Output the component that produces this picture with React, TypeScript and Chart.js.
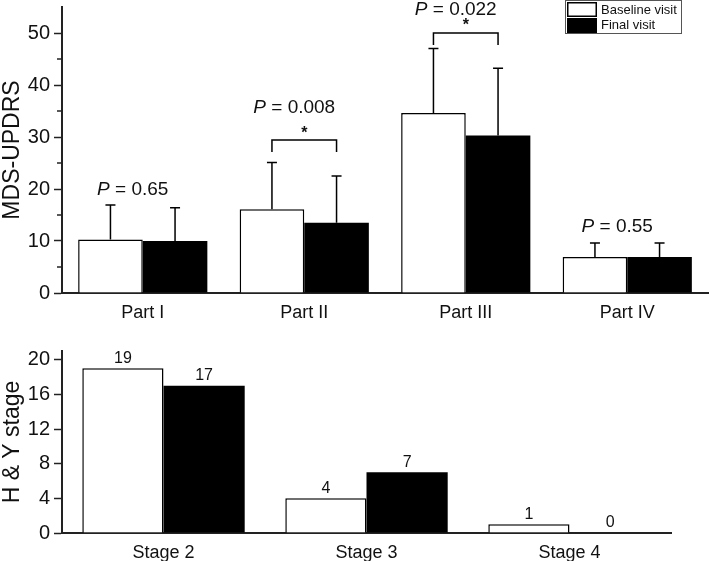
import React, { useEffect, useRef } from 'react';
import { Chart, registerables } from 'chart.js';
Chart.register(...registerables);

const parts = ['Part I', 'Part II', 'Part III', 'Part IV'];
const baselineMean = [10.3, 16.1, 34.6, 6.9];
const baselineSD = [6.6, 9.0, 12.4, 2.7];
const finalMean = [10.0, 13.5, 30.3, 6.9];
const finalSD = [6.4, 9.0, 12.9, 2.7];
const pValues = ['0.65', '0.008', '0.022', '0.55'];
const significant = [false, true, true, false];
const bracketLevel = [0, 29.4, 50.0, 0];
const pLabelLevel = [19.8, 35.6, 54.5, 12.7];
const mdsTicks = [0, 10, 20, 30, 40, 50];
const mdsMinorTicks = [5, 15, 25, 35, 45];
const mdsMax = 55;

const stages = ['Stage 2', 'Stage 3', 'Stage 4'];
const baselineStage = [19, 4, 1];
const finalStage = [17, 7, 0];
const hyTicks = [0, 4, 8, 12, 16, 20];
const hyMax = 21;

const seriesNames = ['Baseline visit', 'Final visit'];

const FONT = "'Liberation Sans', Arial, Helvetica, sans-serif";
const INK = '#111';
const AXIS = '#222';

const errorBarsPlugin = {
  id: 'errorBars',
  afterDatasetsDraw(chart: any) {
    const { ctx } = chart;
    const ys = chart.scales.y;
    const sds = [baselineSD, finalSD];
    ctx.save();
    ctx.strokeStyle = '#000';
    ctx.lineWidth = 1.5;
    sds.forEach((sd, di) => {
      const meta = chart.getDatasetMeta(di);
      const means = chart.data.datasets[di].data;
      meta.data.forEach((el: any, i: number) => {
        const x = el.x;
        const y0 = ys.getPixelForValue(means[i]);
        const y1 = ys.getPixelForValue(means[i] + sd[i]);
        ctx.beginPath();
        ctx.moveTo(x, y0);
        ctx.lineTo(x, y1);
        ctx.moveTo(x - 5, y1);
        ctx.lineTo(x + 5, y1);
        ctx.stroke();
      });
    });
    ctx.restore();
  },
};

const annotationsPlugin = {
  id: 'pAnnotations',
  afterDatasetsDraw(chart: any) {
    const { ctx } = chart;
    const ys = chart.scales.y;
    const xs = chart.scales.x;
    const m0 = chart.getDatasetMeta(0);
    const m1 = chart.getDatasetMeta(1);
    ctx.save();
    ctx.fillStyle = INK;
    ctx.strokeStyle = '#000';
    ctx.lineWidth = 1.5;
    parts.forEach((_, i) => {
      const cx = xs.getPixelForValue(i);
      if (significant[i]) {
        const xa = m0.data[i].x;
        const xb = m1.data[i].x;
        const yb = ys.getPixelForValue(bracketLevel[i]);
        ctx.beginPath();
        ctx.moveTo(xa, yb + 12);
        ctx.lineTo(xa, yb);
        ctx.lineTo(xb, yb);
        ctx.lineTo(xb, yb + 12);
        ctx.stroke();
        ctx.font = `bold 16px ${FONT}`;
        ctx.textAlign = 'center';
        ctx.textBaseline = 'middle';
        ctx.fillText('*', (xa + xb) / 2, yb - 7);
      }
      const yp = ys.getPixelForValue(pLabelLevel[i]);
      ctx.textBaseline = 'middle';
      ctx.textAlign = 'left';
      ctx.font = `italic 19px ${FONT}`;
      const wP = ctx.measureText('P').width;
      ctx.font = `19px ${FONT}`;
      const rest = ' = ' + pValues[i];
      const wR = ctx.measureText(rest).width;
      const start = cx - 10 - (wP + wR) / 2;
      ctx.font = `italic 19px ${FONT}`;
      ctx.fillText('P', start, yp);
      ctx.font = `19px ${FONT}`;
      ctx.fillText(rest, start + wP, yp);
    });
    ctx.restore();
  },
};

const minorTicksPlugin = {
  id: 'minorTicks',
  afterDraw(chart: any) {
    const { ctx } = chart;
    const ys = chart.scales.y;
    const left = chart.chartArea.left;
    ctx.save();
    ctx.strokeStyle = AXIS;
    ctx.lineWidth = 1.5;
    mdsMinorTicks.forEach((v) => {
      const y = ys.getPixelForValue(v);
      ctx.beginPath();
      ctx.moveTo(left - 5, y);
      ctx.lineTo(left, y);
      ctx.stroke();
    });
    ctx.restore();
  },
};

const legendPlugin = {
  id: 'boxLegend',
  afterDraw(chart: any) {
    const { ctx } = chart;
    ctx.save();
    ctx.strokeStyle = '#555';
    ctx.lineWidth = 1;
    ctx.strokeRect(565.5, 0.5, 116, 33);
    ctx.fillStyle = '#fff';
    ctx.fillRect(567, 2, 30, 15);
    ctx.strokeStyle = '#000';
    ctx.lineWidth = 1.5;
    ctx.strokeRect(567.75, 2.75, 28.5, 13.5);
    ctx.fillStyle = '#000';
    ctx.fillRect(567, 18, 30, 15);
    ctx.fillStyle = INK;
    ctx.font = `13px ${FONT}`;
    ctx.textAlign = 'left';
    ctx.textBaseline = 'middle';
    ctx.fillText(seriesNames[0], 601, 10);
    ctx.fillText(seriesNames[1], 601, 25.5);
    ctx.restore();
  },
};

const valueLabelsPlugin = {
  id: 'valueLabels',
  afterDatasetsDraw(chart: any) {
    const { ctx } = chart;
    const ys = chart.scales.y;
    ctx.save();
    ctx.fillStyle = INK;
    ctx.font = `16px ${FONT}`;
    ctx.textAlign = 'center';
    ctx.textBaseline = 'middle';
    chart.data.datasets.forEach((ds: any, di: number) => {
      const meta = chart.getDatasetMeta(di);
      meta.data.forEach((el: any, i: number) => {
        const v = ds.data[i];
        ctx.fillText(String(v), el.x, ys.getPixelForValue(v) - 10);
      });
    });
    ctx.restore();
  },
};

function yScale(max: number, tickValues: number[], title: string) {
  return {
    min: 0,
    max,
    afterBuildTicks: (s: any) => {
      s.ticks = tickValues.map((v) => ({ value: v }));
    },
    ticks: {
      font: { size: 20, family: FONT },
      color: INK,
      padding: 4,
    },
    grid: {
      display: true,
      drawOnChartArea: false,
      drawTicks: true,
      tickLength: 8,
      tickWidth: 1.5,
      tickColor: AXIS,
    },
    border: { display: true, color: AXIS, width: 2 },
    title: { display: true, text: title, font: { size: 23, family: FONT }, color: INK, padding: { top: -1, bottom: 0 } },
    afterFit: (s: any) => {
      s.width = 62;
      s.paddingTop = 0;
      s.paddingBottom = 0;
    },
  };
}

function xScale(h: number) {
  return {
    grid: { display: true, drawOnChartArea: false, drawTicks: false },
    border: { display: true, color: AXIS, width: 2 },
    ticks: { font: { size: 18, family: FONT }, color: INK, padding: 9 },
    afterFit: (s: any) => {
      s.height = h;
      s.paddingLeft = 0;
      s.paddingRight = 0;
    },
  };
}

function barDatasets(base: number[], fin: number[]) {
  return [
    {
      label: seriesNames[0],
      data: base,
      backgroundColor: '#fff',
      borderColor: '#000',
      borderWidth: 1.5,
      categoryPercentage: 0.8,
      barPercentage: 1,
    },
    {
      label: seriesNames[1],
      data: fin,
      backgroundColor: '#000',
      borderColor: '#000',
      borderWidth: 0,
      categoryPercentage: 0.8,
      barPercentage: 1,
    },
  ];
}

export default function App() {
  const topRef = useRef<HTMLCanvasElement>(null);
  const botRef = useRef<HTMLCanvasElement>(null);

  useEffect(() => {
    const top = new Chart(topRef.current as HTMLCanvasElement, {
      type: 'bar',
      data: { labels: parts, datasets: barDatasets(baselineMean, finalMean) },
      options: {
        responsive: false,
        maintainAspectRatio: false,
        animation: false,
        devicePixelRatio: 1,
        layout: { padding: { top: 7, right: 1, left: 0, bottom: 0 } },
        plugins: { legend: { display: false }, tooltip: { enabled: false } },
        scales: { x: xScale(27), y: yScale(mdsMax, mdsTicks, 'MDS-UPDRS') } as any,
      },
      plugins: [errorBarsPlugin, annotationsPlugin, minorTicksPlugin, legendPlugin],
    });

    const bot = new Chart(botRef.current as HTMLCanvasElement, {
      type: 'bar',
      data: { labels: stages, datasets: barDatasets(baselineStage, finalStage) },
      options: {
        responsive: false,
        maintainAspectRatio: false,
        animation: false,
        devicePixelRatio: 1,
        layout: { padding: { top: 11, right: 38, left: 0, bottom: 0 } },
        plugins: { legend: { display: false }, tooltip: { enabled: false } },
        scales: { x: xScale(28), y: yScale(hyMax, hyTicks, 'H & Y stage') } as any,
      },
      plugins: [valueLabelsPlugin],
    });

    return () => {
      top.destroy();
      bot.destroy();
    };
  }, []);

  return (
    <div style={{ position: 'fixed', left: 0, top: 0, width: 709, height: 561, background: '#fff' }}>
      <canvas ref={topRef} width={709} height={320} style={{ position: 'absolute', left: 0, top: 0, width: 709, height: 320 }} />
      <canvas ref={botRef} width={709} height={221} style={{ position: 'absolute', left: 0, top: 340, width: 709, height: 221 }} />
    </div>
  );
}
